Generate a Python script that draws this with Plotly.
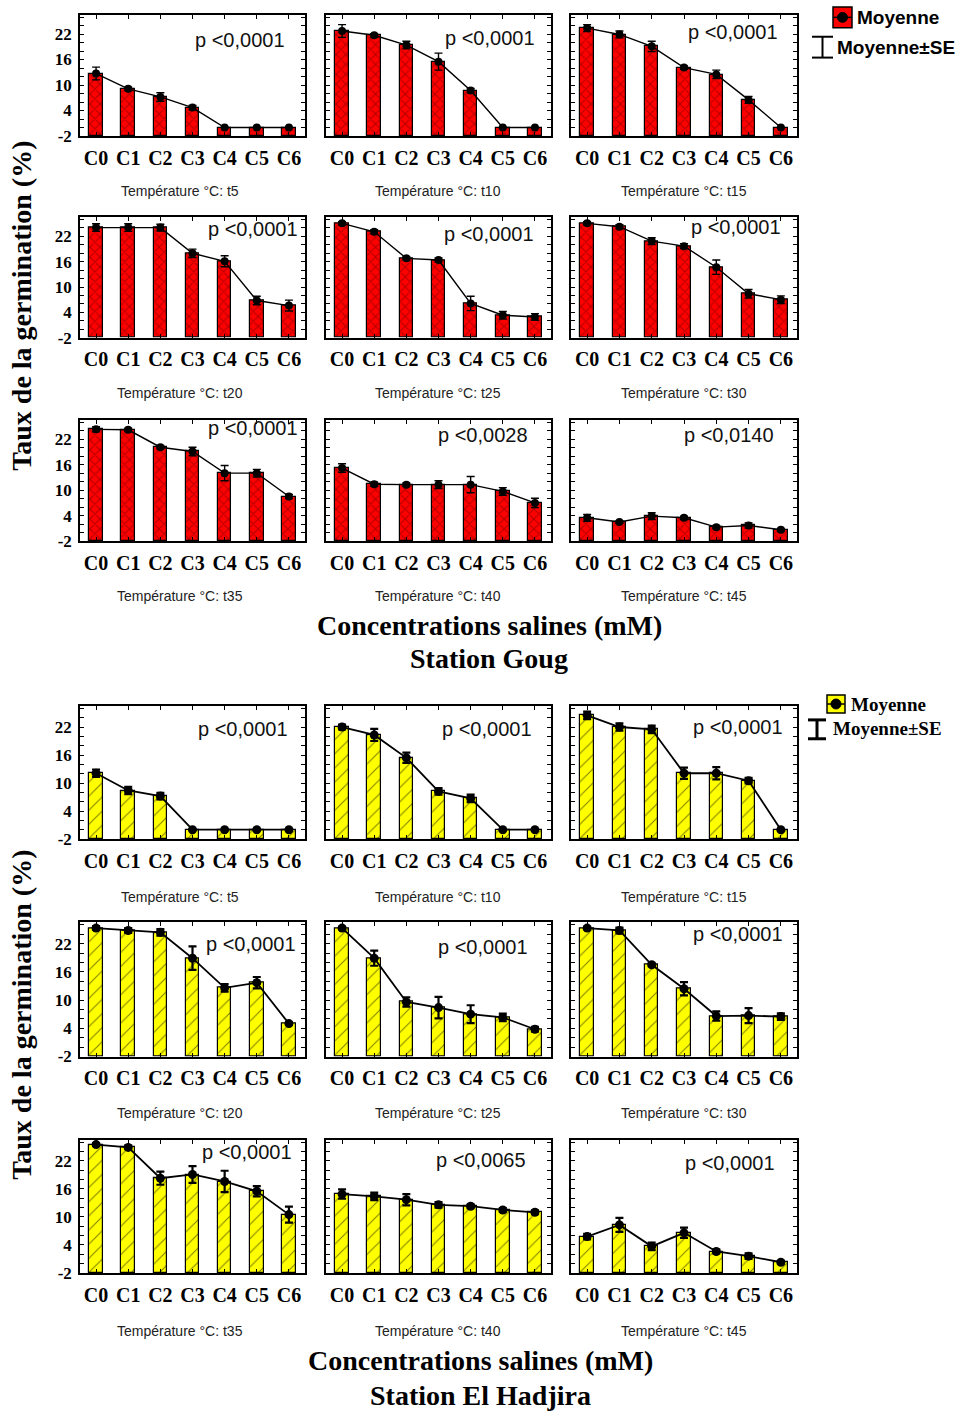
import plotly.graph_objects as go

# ---------------------------------------------------------------------------
# Data
# ---------------------------------------------------------------------------
CONCENTRATIONS = ["C0", "C1", "C2", "C3", "C4", "C5", "C6"]
TEMPERATURES = ["t5", "t10", "t15", "t20", "t25", "t30", "t35", "t40", "t45"]
Y_TICK_LABELS = ["-2", "4", "10", "16", "22"]

# Station Goug : mean germination rate (%) per salt concentration
goug_t5 = [12.7, 9.1, 7.2, 4.7, 0, 0, 0]
goug_t10 = [22.7, 21.7, 19.4, 15.5, 8.7, 0, 0]
goug_t15 = [23.4, 21.9, 19.1, 14.1, 12.5, 6.5, 0]
goug_t20 = [24.1, 24.1, 24.1, 18.0, 16.1, 6.8, 5.6]
goug_t25 = [25.1, 23.1, 16.8, 16.4, 6.1, 3.3, 2.9]
goug_t30 = [25.1, 24.3, 20.9, 19.7, 14.7, 8.4, 7.0]
goug_t35 = [24.3, 24.2, 20.1, 19.1, 14.0, 14.0, 8.5]
goug_t40 = [15.2, 11.4, 11.3, 11.3, 11.3, 9.7, 7.0]
goug_t45 = [3.5, 2.5, 3.9, 3.5, 1.3, 1.7, 0.7]

# Station Goug : standard errors
goug_t5_se = [1.5, 0.4, 1.0, 0.5, 0, 0, 0]
goug_t10_se = [1.5, 0.4, 0.9, 2.0, 0.5, 0, 0]
goug_t15_se = [0.8, 0.8, 1.2, 0.4, 1.0, 0.8, 0]
goug_t20_se = [0.9, 0.9, 0.8, 1.0, 1.3, 1.0, 1.3]
goug_t25_se = [0.4, 0.5, 0.4, 0.5, 1.7, 0.9, 0.8]
goug_t30_se = [0.4, 0.5, 0.8, 0.6, 1.7, 1.0, 0.9]
goug_t35_se = [0.6, 0.4, 0.4, 1.0, 1.8, 0.9, 0.5]
goug_t40_se = [1.0, 0.5, 0.4, 0.9, 1.9, 0.9, 1.1]
goug_t45_se = [0.8, 0.3, 0.8, 0.4, 0.4, 0.6, 0.3]

goug_p = ["p <0,0001", "p <0,0001", "p <0,0001",
          "p <0,0001", "p <0,0001", "p <0,0001",
          "p <0,0001", "p <0,0028", "p <0,0140"]

# Station El Hadjira : mean germination rate (%)
hadjira_t5 = [12.1, 8.4, 7.2, 0, 0, 0, 0]
hadjira_t10 = [22.0, 20.3, 15.4, 8.2, 6.7, 0, 0]
hadjira_t15 = [24.5, 22.0, 21.5, 12.1, 12.1, 10.5, 0]
hadjira_t20 = [25.3, 24.8, 24.4, 18.9, 12.6, 13.7, 5.0]
hadjira_t25 = [25.3, 18.9, 9.6, 8.4, 7.0, 6.3, 3.8]
hadjira_t30 = [25.3, 24.8, 17.5, 12.4, 6.6, 6.7, 6.5]
hadjira_t35 = [25.5, 24.9, 18.3, 19.1, 17.6, 15.5, 10.5]
hadjira_t40 = [14.9, 14.4, 13.7, 12.6, 12.3, 11.5, 11.0]
hadjira_t45 = [5.8, 8.3, 3.7, 6.6, 2.6, 1.6, 0.3]

# Station El Hadjira : standard errors
hadjira_t5_se = [0.8, 0.8, 0.7, 0, 0, 0, 0]
hadjira_t10_se = [0.5, 1.3, 1.1, 0.7, 0.8, 0, 0]
hadjira_t15_se = [0.8, 0.8, 0.8, 1.2, 1.3, 0.6, 0]
hadjira_t20_se = [0.4, 0.5, 0.7, 2.5, 0.8, 1.2, 0.3]
hadjira_t25_se = [0.3, 1.6, 1.0, 2.3, 1.9, 0.8, 0.5]
hadjira_t30_se = [0.3, 0.6, 0.3, 1.4, 1.0, 1.6, 0.7]
hadjira_t35_se = [0.3, 0.4, 1.4, 1.8, 2.3, 1.1, 1.7]
hadjira_t40_se = [1.0, 0.8, 1.2, 0.6, 0.4, 0.4, 0.4]
hadjira_t45_se = [0.6, 1.5, 0.8, 1.1, 0.4, 0.6, 0.3]

hadjira_p = ["p <0,0001", "p <0,0001", "p <0,0001",
             "p <0,0001", "p <0,0001", "p <0,0001",
             "p <0,0001", "p <0,0065", "p <0,0001"]

goug_means = [goug_t5, goug_t10, goug_t15, goug_t20, goug_t25,
              goug_t30, goug_t35, goug_t40, goug_t45]
goug_ses = [goug_t5_se, goug_t10_se, goug_t15_se, goug_t20_se, goug_t25_se,
            goug_t30_se, goug_t35_se, goug_t40_se, goug_t45_se]
hadjira_means = [hadjira_t5, hadjira_t10, hadjira_t15, hadjira_t20, hadjira_t25,
                 hadjira_t30, hadjira_t35, hadjira_t40, hadjira_t45]
hadjira_ses = [hadjira_t5_se, hadjira_t10_se, hadjira_t15_se, hadjira_t20_se,
               hadjira_t25_se, hadjira_t30_se, hadjira_t35_se, hadjira_t40_se,
               hadjira_t45_se]

# ---------------------------------------------------------------------------
# Layout geometry (pixels)
# ---------------------------------------------------------------------------
W, H = 966, 1421
Y_MIN, Y_MAX = -2, 26.5

COLS = [(80, 305), (326, 551), (571, 797)]
TEMP_LABEL_X = [180, 438, 684]
BLOCKS = [
    dict(rows=[(15, 137), (219, 340), (423, 545)],
         means=goug_means, ses=goug_ses, pvals=goug_p,
         fill="#ff0000", pattern="x", pat_fg="#6a0000", pat_size=7, pat_sol=0.3,
         err_w=1.4, line_w=1.4, marker=8,
         p_pos=[(287, 40), (537, 38), (780, 32),
                (300, 231), (536, 236), (783, 229),
                (300, 431), (530, 438), (776, 438)],
         temp_y=[192, 396, 600],
         title_x=489, xlabel_y=630, station_y=663, station="Station Goug",
         ytitle_y=308),
    dict(rows=[(711, 845), (929, 1064), (1148, 1282)],
         means=hadjira_means, ses=hadjira_ses, pvals=hadjira_p,
         fill="#ffff00", pattern="/", pat_fg="#000000", pat_size=10, pat_sol=0.1,
         err_w=2.2, line_w=1.8, marker=9,
         p_pos=[(290, 734), (534, 734), (785, 732),
                (298, 951), (530, 954), (785, 941),
                (294, 1160), (528, 1168), (777, 1171)],
         temp_y=[903, 1121, 1340],
         title_x=480, xlabel_y=1370, station_y=1405, station="Station El Hadjira",
         ytitle_y=1022),
]

SERIF = "Liberation Serif"
SANS = "Liberation Sans"


def px(x):
    return x / W


def py(y):
    return 1 - y / H


fig = go.Figure()
layout_axes = {}
annotations = []
shapes = []

y_tickvals = list(range(Y_MIN, int(Y_MAX) + 1, 2))
y_ticktext = [str(v) if str(v) in Y_TICK_LABELS else "" for v in y_tickvals]

idx = 0
for block in BLOCKS:
    for r, (top, bottom) in enumerate(block["rows"]):
        for c, (left, right) in enumerate(COLS):
            k = r * 3 + c
            idx += 1
            xa = "x" if idx == 1 else f"x{idx}"
            ya = "y" if idx == 1 else f"y{idx}"
            means = block["means"][k]
            ses = block["ses"][k]

            # bars rise from the floor of the value axis
            fig.add_trace(go.Bar(
                x=CONCENTRATIONS, y=[m - Y_MIN for m in means], base=Y_MIN,
                width=0.42, xaxis=xa, yaxis=ya, showlegend=False,
                marker=dict(color=block["fill"],
                            line=dict(color="black", width=1.2),
                            pattern=dict(shape=block["pattern"], fgcolor=block["pat_fg"],
                                         bgcolor=block["fill"],
                                         size=block["pat_size"], solidity=block["pat_sol"],
                                         fillmode="overlay")),
            ))
            # means joined by a line, with SE whiskers
            fig.add_trace(go.Scatter(
                x=CONCENTRATIONS, y=means, mode="lines+markers",
                xaxis=xa, yaxis=ya, showlegend=False,
                line=dict(color="black", width=block["line_w"]),
                marker=dict(color="black", size=block["marker"]),
                error_y=dict(type="data", array=ses, visible=True, color="black",
                             thickness=block["err_w"], width=4),
            ))

            xkey = "xaxis" if idx == 1 else f"xaxis{idx}"
            ykey = "yaxis" if idx == 1 else f"yaxis{idx}"
            layout_axes[xkey] = dict(
                domain=[px(left), px(right)], anchor=ya, type="category",
                categoryorder="array", categoryarray=CONCENTRATIONS,
                range=[-0.5, 6.5], showline=True, linecolor="black", linewidth=1.5,
                mirror="ticks", ticks="inside", ticklen=4, tickcolor="black",
                showgrid=False, zeroline=False, ticklabelstandoff=3,
                tickfont=dict(family=SERIF, size=20, color="black", weight="bold"),
            )
            layout_axes[ykey] = dict(
                domain=[py(bottom), py(top)], anchor=xa,
                range=[Y_MIN, Y_MAX], tickmode="array",
                tickvals=y_tickvals, ticktext=y_ticktext,
                showticklabels=(c == 0),
                showline=True, linecolor="black", linewidth=1.5,
                mirror="ticks", ticks="inside", ticklen=4, tickcolor="black",
                showgrid=False, zeroline=False, ticklabelstandoff=3,
                tickfont=dict(family=SERIF, size=17, color="black", weight="bold"),
            )

            # significance label
            p_x, p_y = block["p_pos"][k]
            annotations.append(dict(
                text=block["pvals"][k], x=px(p_x), y=py(p_y), xref="paper", yref="paper",
                xanchor="right", yanchor="middle", showarrow=False,
                font=dict(family=SANS, size=20, color="#111111"),
            ))
            # temperature caption under each panel
            temp = TEMPERATURES[k]
            annotations.append(dict(
                text=f"Température °C: {temp}", x=px(TEMP_LABEL_X[c]),
                y=py(block["temp_y"][r]), xref="paper", yref="paper",
                xanchor="center", yanchor="middle", showarrow=False,
                font=dict(family=SANS, size=14, color="#222222"),
            ))

    # block-level titles
    annotations.append(dict(
        text="Concentrations salines (mM)", x=px(block["title_x"]), y=py(block["xlabel_y"]),
        xref="paper", yref="paper", xanchor="center", yanchor="middle",
        showarrow=False, font=dict(family=SERIF, size=28, color="black", weight="bold"),
    ))
    annotations.append(dict(
        text=block["station"], x=px(block["title_x"]), y=py(block["station_y"]),
        xref="paper", yref="paper", xanchor="center", yanchor="middle",
        showarrow=False, font=dict(family=SERIF, size=28, color="black", weight="bold"),
    ))
    annotations.append(dict(
        text="Taux de la germination (%)", x=px(22), y=py(block["ytitle_y"]),
        xref="paper", yref="paper", xanchor="center", yanchor="middle",
        textangle=-90, showarrow=False,
        font=dict(family=SERIF, size=28, color="black", weight="bold"),
    ))

# ---------------------------------------------------------------------------
# Legends (drawn as shapes + text)
# ---------------------------------------------------------------------------
LEGENDS = [
    dict(box=(833, 7, 852, 28), fill="#ff0000", bar=(812, 833, 37, 58),
         text_x=855, mean_y=18, se_x=835, se_y=48, family=SANS, size=19, bar_w=2),
    dict(box=(827, 700, 845, 718), fill="#ffff00", bar=(808, 826, 725, 744),
         text_x=849, mean_y=709, se_x=831, se_y=734, family=SERIF, size=19, bar_w=3),
]
for lg in LEGENDS:
    x0, y0, x1, y1 = lg["box"]
    shapes.append(dict(type="rect", xref="paper", yref="paper",
                       x0=px(x0), x1=px(x1), y0=py(y1), y1=py(y0),
                       fillcolor=lg["fill"], line=dict(color="black", width=1.5)))
    cx, cy = (x0 + x1) / 2, (y0 + y1) / 2
    shapes.append(dict(type="line", xref="paper", yref="paper",
                       x0=px(x0), x1=px(x1), y0=py(cy), y1=py(cy),
                       line=dict(color="black", width=1.5)))
    shapes.append(dict(type="circle", xref="paper", yref="paper",
                       x0=px(cx - 5), x1=px(cx + 5), y0=py(cy + 5), y1=py(cy - 5),
                       fillcolor="black", line=dict(color="black", width=1)))
    bx0, bx1, by0, by1 = lg["bar"]
    bcx = (bx0 + bx1) / 2
    for seg in [((bcx, by0), (bcx, by1)), ((bx0, by0), (bx1, by0)), ((bx0, by1), (bx1, by1))]:
        (ax, ay), (bx, by) = seg
        shapes.append(dict(type="line", xref="paper", yref="paper",
                           x0=px(ax), x1=px(bx), y0=py(ay), y1=py(by),
                           line=dict(color="black", width=lg["bar_w"])))
    annotations.append(dict(text="Moyenne", x=px(lg["text_x"]), y=py(lg["mean_y"]),
                            xref="paper", yref="paper", xanchor="left", yanchor="middle",
                            showarrow=False,
                            font=dict(family=lg["family"], size=lg["size"], color="black",
                                      weight="bold")))
    annotations.append(dict(text="Moyenne±SE", x=px(lg["se_x"]), y=py(lg["se_y"]),
                            xref="paper", yref="paper", xanchor="left", yanchor="middle",
                            showarrow=False,
                            font=dict(family=lg["family"], size=lg["size"], color="black",
                                      weight="bold")))

fig.update_layout(
    width=W, height=H, margin=dict(l=0, r=0, t=0, b=0),
    paper_bgcolor="white", plot_bgcolor="white",
    bargap=0, showlegend=False,
    annotations=annotations, shapes=shapes,
    **layout_axes,
)

fig.write_html("out.html")
